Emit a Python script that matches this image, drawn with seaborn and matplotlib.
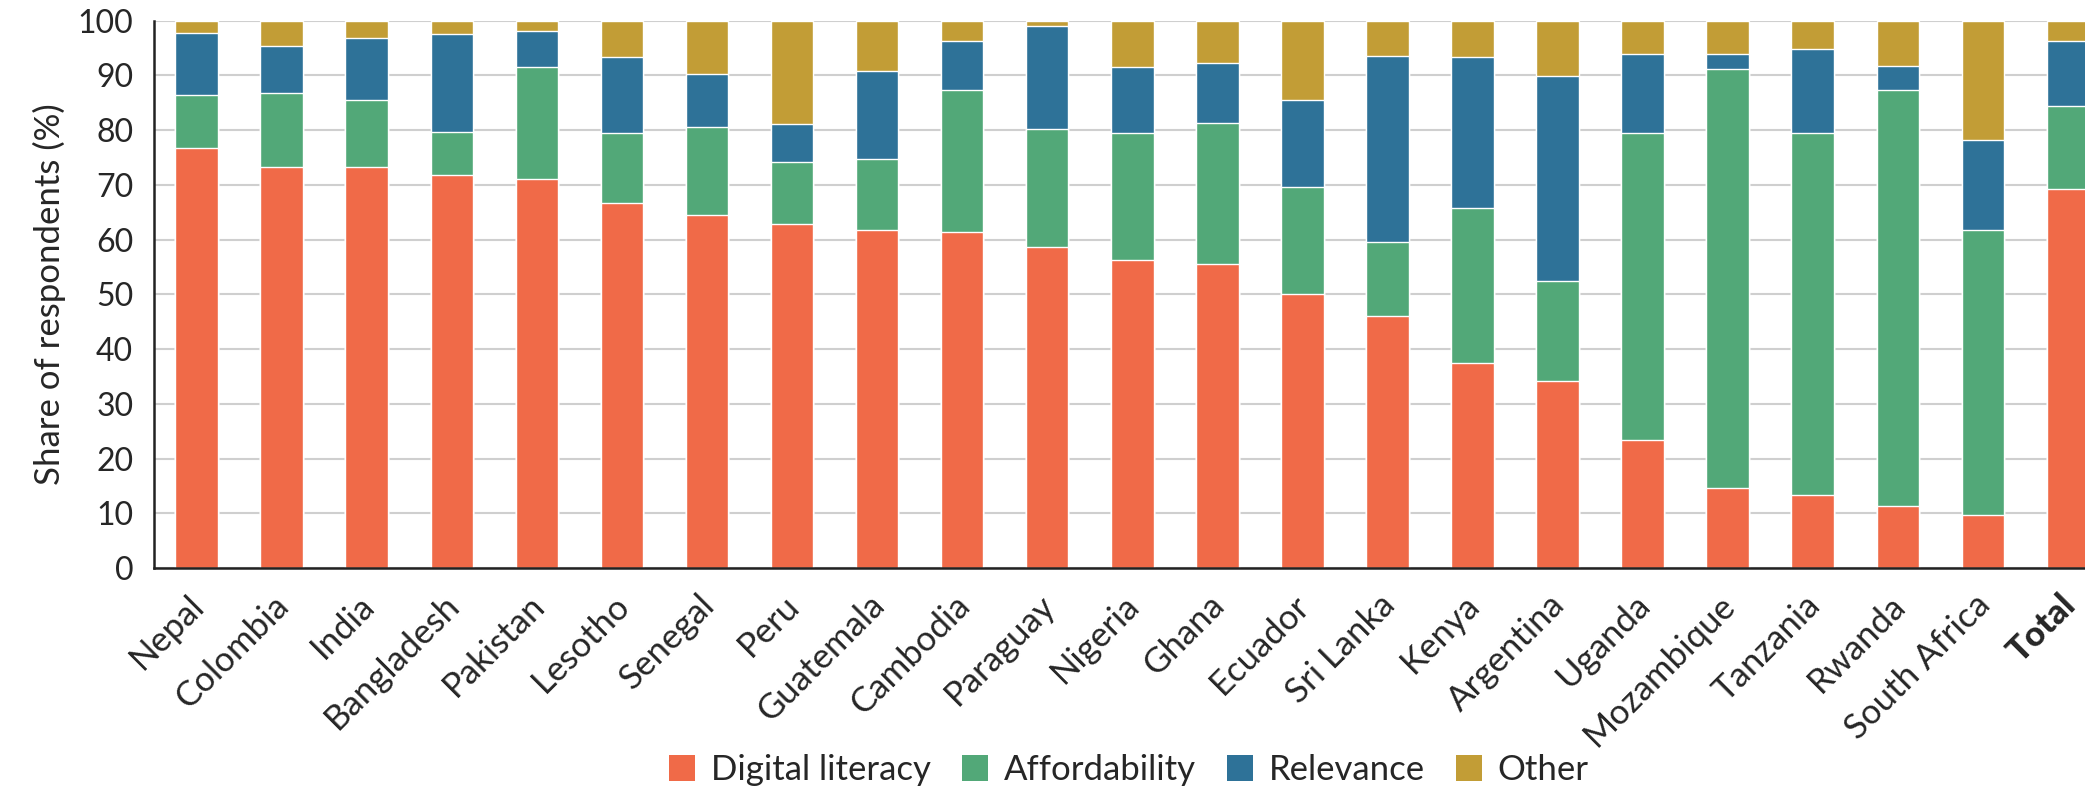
import matplotlib
matplotlib.use("Agg")
import matplotlib.pyplot as plt
import matplotlib.transforms as mtransforms
import seaborn as sns
import numpy as np
import pandas as pd
from matplotlib.patches import Patch
from matplotlib.ticker import FixedLocator

countries = ["Nepal", "Colombia", "India", "Bangladesh", "Pakistan", "Lesotho", "Senegal",
             "Peru", "Guatemala", "Cambodia", "Paraguay", "Nigeria", "Ghana", "Ecuador",
             "Sri Lanka", "Kenya", "Argentina", "Uganda", "Mozambique", "Tanzania",
             "Rwanda", "South Africa", "Total"]

digital_literacy = [76.7, 73.3, 73.2, 71.8, 71.1, 66.7, 64.5, 62.8, 61.7, 61.4, 58.7, 56.3,
                    55.5, 50.0, 46.0, 37.4, 34.2, 23.3, 14.7, 13.3, 11.3, 9.6, 69.2]
affordability = [9.8, 13.4, 12.4, 7.8, 20.4, 12.7, 16.1, 11.3, 13.0, 25.9, 21.6, 23.2,
                 25.9, 19.6, 13.6, 28.3, 18.3, 56.2, 76.4, 66.2, 76.0, 52.1, 15.2]
relevance = [11.2, 8.6, 11.2, 17.9, 6.7, 13.9, 9.7, 7.0, 16.2, 8.9, 18.8, 12.0,
             10.9, 16.0, 34.0, 27.7, 37.4, 14.5, 2.9, 15.3, 4.5, 16.5, 11.9]
other = [100 - (a + b + c) for a, b, c in zip(digital_literacy, affordability, relevance)]

series_names = ["Digital literacy", "Affordability", "Relevance", "Other"]
colors = ["#F06A48", "#52A878", "#2E7298", "#C29D36"]
yticks = [0, 10, 20, 30, 40, 50, 60, 70, 80, 90, 100]

df = pd.DataFrame({"country": countries, "Digital literacy": digital_literacy,
                   "Affordability": affordability, "Relevance": relevance, "Other": other})
cum = df[series_names].cumsum(axis=1)

sns.set_theme(style="white")
plt.rcParams["font.family"] = ["Lato", "DejaVu Sans"]

fig = plt.figure(figsize=(20.85, 7.93), dpi=100)
ax = fig.add_axes([0.0739, 0.2837, 1.0122 - 0.0739, 0.9739 - 0.2837])

ax.yaxis.grid(True, color="#cfcfcf", linewidth=1.5, zorder=0)
ax.set_axisbelow(True)

for name, col in zip(reversed(series_names), reversed(colors)):
    sns.barplot(x=df["country"], y=cum[name], color=col, width=0.5, ax=ax,
                saturation=1, order=countries, zorder=2)

ax.set_xlim(-0.5, len(countries) - 0.5)
ax.set_ylim(0, 100)
ax.set_yticks(yticks)
ax.set_yticklabels([str(t) for t in yticks], fontsize=23)
ax.set_ylabel("Share of respondents (%)", fontsize=25, labelpad=8)
ax.set_xlabel("")

ax.xaxis.set_minor_locator(FixedLocator(np.arange(-0.5, len(countries) - 0.5, 1.0)))
ax.tick_params(axis="x", which="major", length=0, pad=15)
ax.tick_params(axis="x", which="minor", length=11, width=1.8, color="#222222", direction="out")
ax.tick_params(axis="y", which="major", length=11, width=1.8, color="#222222", direction="out", pad=4)
ax.set_xticks(range(len(countries)))
ax.set_xticklabels(countries, rotation=45, ha="right", rotation_mode="anchor", fontsize=25)
offset = mtransforms.ScaledTranslation(-9 / 100, 0, fig.dpi_scale_trans)
for lbl in ax.get_xticklabels():
    lbl.set_transform(lbl.get_transform() + offset)
    if lbl.get_text() == "Total":
        lbl.set_fontweight("black")

for s in ["top", "right"]:
    ax.spines[s].set_visible(False)
for s in ["left", "bottom"]:
    ax.spines[s].set_color("#222222")
    ax.spines[s].set_linewidth(1.8)

handles = [Patch(facecolor=c, edgecolor="none", label=n) for n, c in zip(series_names, colors)]
fig.legend(handles=handles, loc="center", bbox_to_anchor=(0.5415, 0.029), ncol=4,
           frameon=False, fontsize=25, handlelength=0.75, handleheight=0.75,
           handletextpad=0.45, columnspacing=0.9, borderaxespad=0)

fig.savefig("out.png", dpi=100)
